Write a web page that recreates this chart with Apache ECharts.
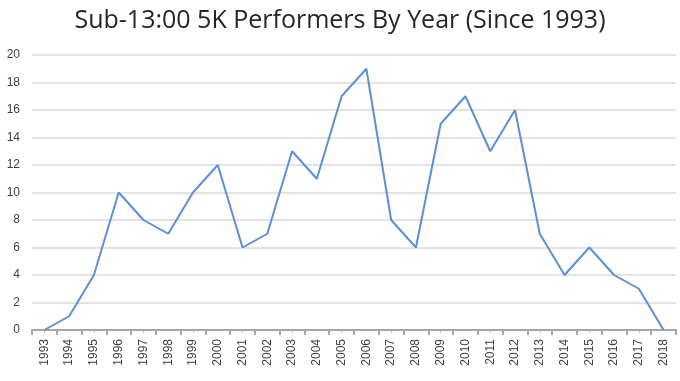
<!DOCTYPE html>
<html><head><meta charset="utf-8">
<script src="https://cdn.jsdelivr.net/npm/echarts@6/dist/echarts.min.js"></script>
<style>html,body{margin:0;padding:0;background:#fff}#c{width:680px;height:381px}</style>
</head><body><div id="c"></div>
<script>
const years = ['1993','1994','1995','1996','1997','1998','1999','2000','2001','2002','2003','2004','2005','2006','2007','2008','2009','2010','2011','2012','2013','2014','2015','2016','2017','2018'];
const performers = [0,1,4,10,8,7,10,12,6,7,13,11,17,19,8,6,15,17,13,16,7,4,6,4,3,0];
const yTicks = {min:0, max:20, interval:2};
const chart = echarts.init(document.getElementById('c'));
chart.setOption({
  animation:false,
  title:{text:'Sub-13:00 5K Performers By Year (Since 1993)', left:'center', top:3,
    textStyle:{fontFamily:'Open Sans', fontWeight:'normal', fontSize:25, color:'#262626'}},
  grid:{left:32, right:4, top:55, bottom:51},
  xAxis:[{type:'category', data:years, boundaryGap:true,
    axisLine:{lineStyle:{color:'#a6a6a6', width:2}},
    axisTick:{show:true, length:5, inside:false, lineStyle:{color:'#a6a6a6', width:2}},
    axisLabel:{rotate:90, interval:0, color:'#404040', fontSize:12, fontFamily:'Liberation Sans', margin:9},
    splitLine:{show:false}},
   {type:'category', data:years, boundaryGap:true, position:'bottom',
    axisLine:{show:false}, axisLabel:{show:false},
    axisTick:{show:true, alignWithLabel:true, length:3, lineStyle:{color:'#c0c0c0', width:1}}}],
  yAxis:{type:'value', min:yTicks.min, max:yTicks.max, interval:yTicks.interval,
    axisLine:{show:false}, axisTick:{show:false},
    axisLabel:{color:'#404040', fontSize:12, fontFamily:'Liberation Sans', margin:12},
    splitLine:{lineStyle:{color:'#e3e3e3', width:2}}},
  series:[{type:'line', data:performers, symbol:'none', xAxisIndex:0,
    lineStyle:{color:'#5b8fd7', width:2}}]
});
</script></body></html>
